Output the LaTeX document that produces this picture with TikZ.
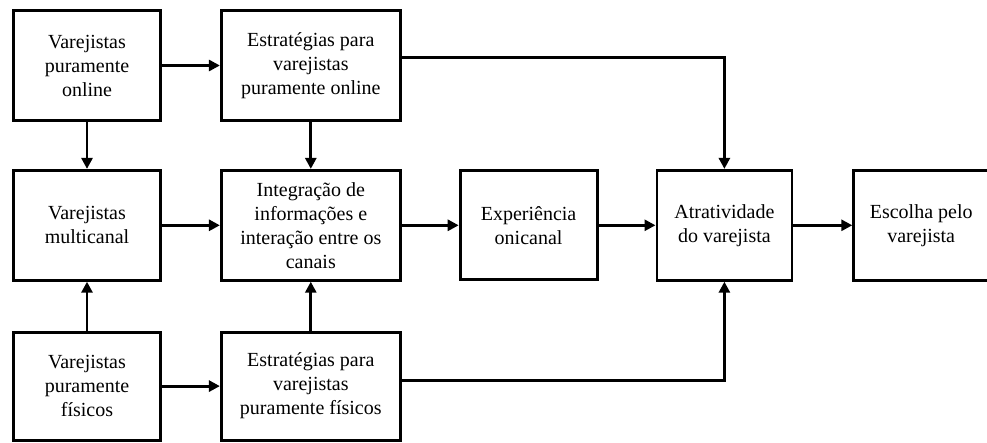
\documentclass[tikz,border=0pt]{standalone}
\usepackage{fontspec}
\setmainfont{Liberation Serif}
\usetikzlibrary{arrows.meta, positioning}

\begin{document}
\begin{tikzpicture}[x=1pt, y=1pt,
                    every node/.style={rectangle, draw, align=center, inner sep=2pt,
                                       font=\fontsize{20}{24}\selectfont},
                    line width=2.8pt, >={Triangle[length=11pt,width=11pt]}]

\useasboundingbox (0,0) rectangle (987,-443);

% Nodes
\node (online) at (87,-65.5) [minimum width=147pt, minimum height=110pt] {Varejistas\\puramente\\online};
\node (estOnline) [right=58pt of online, minimum width=179pt, minimum height=110pt] {Estratégias para\\varejistas\\puramente online};
\node (multicanal) [below=47pt of online, minimum width=147pt, minimum height=110pt] {Varejistas\\multicanal};
\node (integracao) [right=58pt of multicanal, minimum width=179pt, minimum height=110pt] {Integração de\\informações e\\interação entre os\\canais};
\node (fisicos) [below=49pt of multicanal, minimum width=147pt, minimum height=108pt] {Varejistas\\puramente\\físicos};
\node (estFisicos) [right=58pt of fisicos, minimum width=179pt, minimum height=108pt] {Estratégias para\\varejistas\\puramente físicos};
\node (experiencia) [right=57pt of integracao, minimum width=137pt, minimum height=109pt] {Experiência\\onicanal};
\node (atratividade) [right=57pt of experiencia, minimum width=135pt, minimum height=110pt] {Atratividade\\do varejista};
\node (escolha) [right=59pt of atratividade, minimum width=135pt, minimum height=110pt] {Escolha pelo\\varejista};

% Edges
\draw[->] (online) -- (estOnline);
\draw[->] (online) -- (multicanal);
\draw[->] (fisicos) -- (multicanal);
\draw[->] (fisicos) -- (estFisicos);
\draw[->] (estOnline) -- (integracao);
\draw[->] (estFisicos) -- (integracao);
\draw[->] (multicanal) -- (integracao);
\draw[->] (integracao) -- (experiencia);
\draw[->] (experiencia) -- (atratividade);
\draw[->] (atratividade) -- (escolha);
\draw[->] ([yshift=8pt]estOnline.east) -| (atratividade);
\draw[->] ([yshift=6pt]estFisicos.east) -| (atratividade);

\end{tikzpicture}
\end{document}
